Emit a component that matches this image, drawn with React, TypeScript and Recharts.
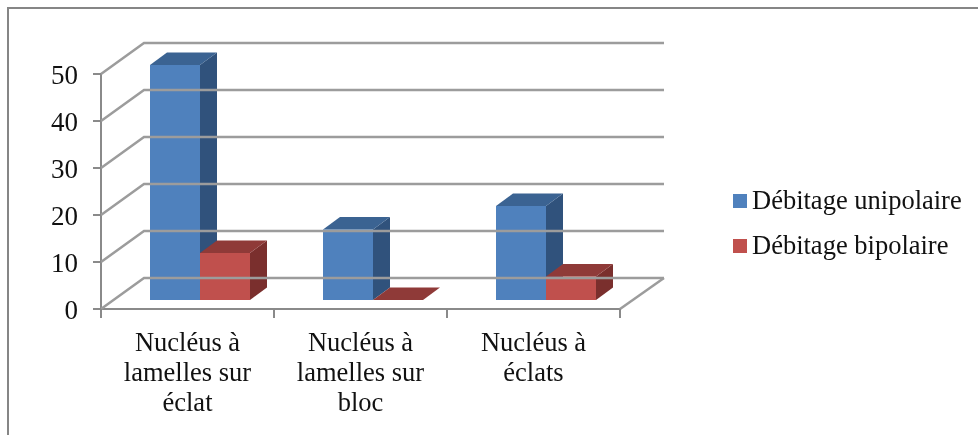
import { Bar, BarChart, Legend, XAxis, YAxis } from "recharts";

const categories = [
  "Nucléus à\nlamelles sur\néclat",
  "Nucléus à\nlamelles sur\nbloc",
  "Nucléus à\néclats",
];
const unipolaire = [50, 15, 20];
const bipolaire = [10, 0, 5];
const yTicks = [0, 10, 20, 30, 40, 50];

const data = categories.map((name, i) => ({
  name,
  unipolaire: unipolaire[i],
  bipolaire: bipolaire[i],
}));

const FONT = '"Liberation Serif", "Times New Roman", serif';
const AXIS = "#8a8a8a";
const WALL = "#9c9c9c";
const LEGEND_W = 245;

// zone du tracé (plan avant)
const LEFT = 101;
const RIGHT = 620;
const TOP = 74;
const BOTTOM = 309;
// décalage du mur du fond
const WALL_DX = 43;
const WALL_DY = 31;
// décalage et profondeur des barres
const BAR_DX = 12.5;
const BAR_DY = 9;
const DEPTH_X = 17;
const DEPTH_Y = 12.5;

const shades: Record<string, { front: string; top: string; side: string }> = {
  "#4F81BD": { front: "#4F81BD", top: "#3B6392", side: "#30527C" },
  "#C0504D": { front: "#C0504D", top: "#8F3A38", side: "#7A2F2D" },
};

function Bar3D(props: any) {
  const { x, y, width, height, fill } = props;
  const c = shades[fill];
  const l = x + BAR_DX;
  const r = l + width;
  const t = y - BAR_DY;
  const b = t + height;
  return (
    <g>
      <polygon
        points={`${r},${t} ${r + DEPTH_X},${t - DEPTH_Y} ${r + DEPTH_X},${b - DEPTH_Y} ${r},${b}`}
        fill={c.side}
      />
      <polygon
        points={`${l},${t} ${l + DEPTH_X},${t - DEPTH_Y} ${r + DEPTH_X},${t - DEPTH_Y} ${r},${t}`}
        fill={c.top}
      />
      <rect x={l} y={t} width={width} height={height} fill={c.front} />
    </g>
  );
}

function YTick(props: any) {
  const { y, payload } = props;
  const by = y - WALL_DY;
  return (
    <g>
      <polyline
        points={`${LEFT},${y} ${LEFT + WALL_DX},${by} ${RIGHT + WALL_DX + 1},${by}`}
        fill="none"
        stroke={WALL}
        strokeWidth={2.5}
      />
      {payload.value === 0 && (
        <line
          x1={RIGHT}
          y1={y}
          x2={RIGHT + WALL_DX + 1}
          y2={by}
          stroke={WALL}
          strokeWidth={2.5}
        />
      )}
      <line x1={LEFT - 8} y1={y} x2={LEFT} y2={y} stroke={AXIS} strokeWidth={2} />
      <text
        x={78}
        y={y + 10}
        textAnchor="end"
        fontFamily={FONT}
        fontSize={27}
        fill="#111"
      >
        {payload.value}
      </text>
    </g>
  );
}

function XTick(props: any) {
  const { x, payload, index } = props;
  const half = (RIGHT - LEFT) / categories.length / 2;
  const lines = String(payload.value).split("\n");
  return (
    <g>
      <line x1={x - half} y1={BOTTOM} x2={x - half} y2={BOTTOM + 9} stroke={AXIS} strokeWidth={2} />
      {index === categories.length - 1 && (
        <line x1={x + half} y1={BOTTOM} x2={x + half} y2={BOTTOM + 9} stroke={AXIS} strokeWidth={2} />
      )}
      <text textAnchor="middle" fontFamily={FONT} fontSize={26.5} fill="#111">
        {lines.map((line, i) => (
          <tspan key={i} x={x} y={BOTTOM + 42 + i * 30}>
            {line}
          </tspan>
        ))}
      </text>
    </g>
  );
}

function LegendBox({ payload }: any) {
  return (
    <div style={{ fontFamily: FONT, fontSize: 26.5, color: "#111" }}>
      {payload.map((p: any) => (
        <div key={p.value} style={{ display: "flex", alignItems: "center", height: 45 }}>
          <span
            style={{ width: 14, height: 14, background: p.color, marginRight: 5, flex: "none" }}
          />
          <span style={{ whiteSpace: "nowrap" }}>{p.value}</span>
        </div>
      ))}
    </div>
  );
}

export default function App() {
  return (
    <div
      style={{
        position: "absolute",
        left: 0,
        top: 0,
        width: 978,
        height: 435,
        background: "#fff",
        overflow: "hidden",
        filter: "blur(0.4px)",
      }}
    >
      <div
        style={{
          position: "absolute",
          left: 7,
          top: 7,
          right: -5,
          bottom: -5,
          borderLeft: "2px solid #868686",
          borderTop: "2px solid #868686",
        }}
      />
      <BarChart
        width={978}
        height={435}
        data={data}
        barCategoryGap={36.5}
        barGap={0}
        margin={{ top: TOP, right: 978 - RIGHT - LEGEND_W, bottom: 16, left: LEFT - 60 }}
        style={{ position: "absolute", left: 0, top: 0 }}
      >
        <YAxis
          width={60}
          domain={[0, 50]}
          ticks={yTicks}
          interval={0}
          tick={<YTick />}
          tickLine={false}
          axisLine={{ stroke: AXIS, strokeWidth: 2 }}
        />
        <XAxis
          dataKey="name"
          height={110}
          interval={0}
          tick={<XTick />}
          tickLine={false}
          axisLine={{ stroke: AXIS, strokeWidth: 2 }}
        />
        <Legend
          layout="vertical"
          align="right"
          verticalAlign="middle"
          width={LEGEND_W}
          itemSorter={null as any}
          content={<LegendBox />}
          wrapperStyle={{ position: "absolute", left: 733, top: 178, bottom: "auto", right: "auto" }}
        />
        <Bar
          dataKey="unipolaire"
          name="Débitage unipolaire"
          fill="#4F81BD"
          shape={<Bar3D />}
          isAnimationActive={false}
        />
        <Bar
          dataKey="bipolaire"
          name="Débitage bipolaire"
          fill="#C0504D"
          shape={<Bar3D />}
          isAnimationActive={false}
        />
      </BarChart>
    </div>
  );
}
